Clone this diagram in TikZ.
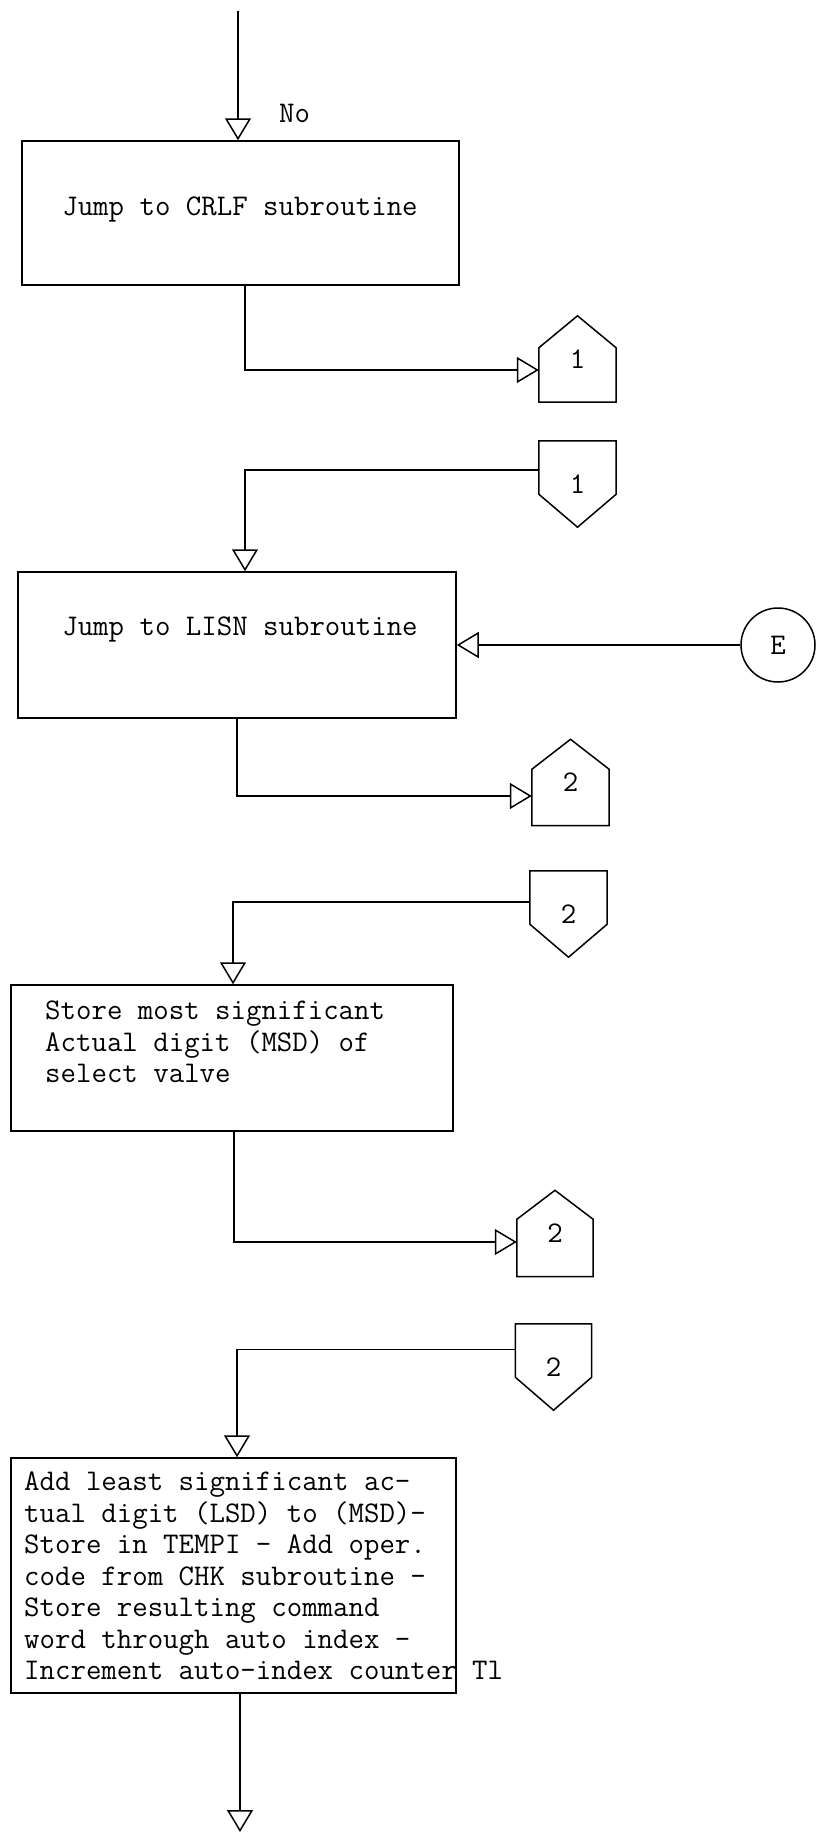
\documentclass[tikz,border=0pt]{standalone}
\usepackage{fontspec}
\usetikzlibrary{arrows.meta,calc}
\begin{document}
\begin{tikzpicture}[x=1pt,y=-1pt,
  every node/.style={font=\ttfamily\fontsize{30}{31.5}\selectfont},
  box/.style={draw, line width=1.5pt, inner sep=0pt},
  conn/.style={inner sep=0pt, minimum width=77pt, minimum height=86pt},
  ln/.style={line width=1.5pt, line join=miter},
  arr/.style={line width=1.5pt, -{Triangle[open,length=22pt,width=26pt]}},
  txt/.style={inner sep=0pt, align=left}]
\useasboundingbox (0,0) rectangle (815,1840);

% boxes
\node[box, minimum width=437pt, minimum height=144pt] (boxA) at (240.5,213) {};
\node[box, minimum width=438pt, minimum height=146pt] (boxB) at (237,645) {};
\node[box, minimum width=442pt, minimum height=146pt] (boxC) at (232,1058) {};
\node[box, minimum width=445pt, minimum height=235pt] (boxD) at (233.5,1575.5) {};

% texts
\node[txt] (tA) at (240,209) {Jump to CRLF subroutine};
\node[txt] (tB) at (240,629) {Jump to LISN subroutine};
\node[txt, anchor=west] (tC) at (45,1042) {Store most significant\\Actual digit (MSD) of\\select valve};
\node[txt, anchor=west] (tD) at (24,1576) {Add least significant ac-\\tual digit (LSD) to (MSD)-\\Store in TEMPI - Add oper.\\code from CHK subroutine -\\Store resulting command\\word through auto index -\\Increment auto-index counter Tl};
\node[txt, anchor=west] (no) at (279,113) {No};

% connectors
\node[conn] (c1u) at (577.5,359) {1};
\draw[ln] (c1u.south west) -- ([yshift=-32pt]c1u.north west) -- (c1u.north) -- ([yshift=-32pt]c1u.north east) -- (c1u.south east) -- cycle;
\node[conn] (c1d) at (577.5,484) {1};
\draw[ln] (c1d.north west) -- ([yshift=33pt]c1d.south west) -- (c1d.south) -- ([yshift=33pt]c1d.south east) -- (c1d.north east) -- cycle;
\node[conn] (c2a) at (570.5,782.5) {2};
\draw[ln] (c2a.south west) -- ([yshift=-30pt]c2a.north west) -- (c2a.north) -- ([yshift=-30pt]c2a.north east) -- (c2a.south east) -- cycle;
\node[conn] (c2b) at (568.5,914) {2};
\draw[ln] (c2b.north west) -- ([yshift=33pt]c2b.south west) -- (c2b.south) -- ([yshift=33pt]c2b.south east) -- (c2b.north east) -- cycle;
\node[conn, minimum width=76pt] (c2c) at (555,1233.5) {2};
\draw[ln] (c2c.south west) -- ([yshift=-29pt]c2c.north west) -- (c2c.north) -- ([yshift=-29pt]c2c.north east) -- (c2c.south east) -- cycle;
\node[conn, minimum width=76pt] (c2d) at (553.5,1367) {2};
\draw[ln] (c2d.north west) -- ([yshift=33pt]c2d.south west) -- (c2d.south) -- ([yshift=33pt]c2d.south east) -- (c2d.north east) -- cycle;

\node[draw, circle, line width=1.5pt, minimum size=74pt, inner sep=0pt] (E) at (778,645) {E};

% flow lines
\coordinate (top) at (238,11);
\coordinate (bot) at (240,1832);
\draw[arr] (top) -- (top |- boxA.north);
\draw[arr] ([xshift=4.5pt]boxA.south) |- ([yshift=-11pt]c1u.west);
\draw[arr] ([yshift=14pt]c1d.west) -| ([xshift=8pt]boxB.north);
\draw[arr] (E.west) -- (E.west -| boxB.east);
\draw[arr] (boxB.south) |- ([yshift=-13.5pt]c2a.west);
\draw[arr] ([yshift=12pt]c2b.west) -| ([xshift=1pt]boxC.north);
\draw[arr] ([xshift=2pt]boxC.south) |- ([yshift=-8.5pt]c2c.west);
\draw[arr] ([yshift=17.5pt]c2d.west) -| ([xshift=3.5pt]boxD.north);
\draw[arr] ([xshift=6.5pt]boxD.south) -- (bot);
\end{tikzpicture}
\end{document}
